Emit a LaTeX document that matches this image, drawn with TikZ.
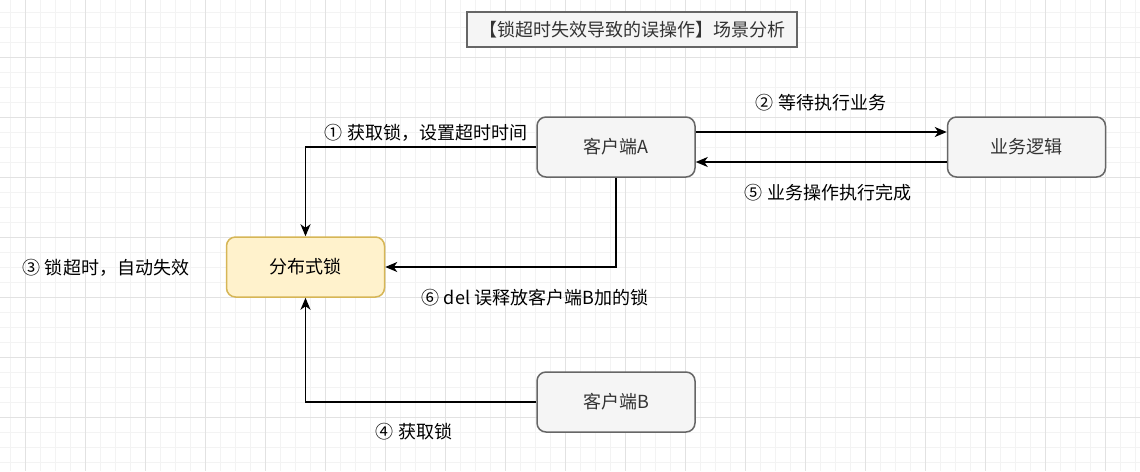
\documentclass[tikz,border=0pt]{standalone}
\usepackage{fontspec}
\setmainfont{Noto Sans CJK SC}
\usetikzlibrary{arrows.meta}
\definecolor{gfill}{HTML}{F5F5F5}
\definecolor{gline}{HTML}{666666}
\definecolor{gtext}{HTML}{333333}
\definecolor{yfill}{HTML}{FFF2CC}
\definecolor{yline}{HTML}{D6B656}
\definecolor{minorgrid}{HTML}{F3F3F3}
\definecolor{majorgrid}{HTML}{E2E2E2}
\tikzset{
  base/.style={font=\fontsize{18}{22}\selectfont},
  graybox/.style={base, draw=gline, fill=gfill, text=gtext, line width=1.5pt, rounded corners=9pt, minimum width=158pt, minimum height=60pt, inner sep=0pt},
  lockbox/.style={graybox, draw=yline, fill=yfill, text=black},
  titlebox/.style={base, draw=gline, fill=gfill, text=gtext, line width=1.5pt, minimum width=330pt, minimum height=35pt, inner sep=0pt},
  lbl/.style={base, text=black, inner sep=0pt},
  conn/.style={line width=1.5pt, -{Stealth[length=12pt, width=10pt, inset=3.5pt]}}
}
\begin{document}
\begin{tikzpicture}[x=1pt, y=-1pt]
\useasboundingbox (0,0) rectangle (1140,471);
% grid
\foreach \x in {10,25,...,1140} \draw[minorgrid, line width=1pt] (\x,0) -- (\x,471);
\foreach \y in {12,27,...,471} \draw[minorgrid, line width=1pt] (0,\y) -- (1140,\y);
\foreach \x in {25,85,...,1140} \draw[majorgrid, line width=1pt] (\x,0) -- (\x,471);
\foreach \y in {57,117,...,471} \draw[majorgrid, line width=1pt] (0,\y) -- (1140,\y);

\node[titlebox] (title) at (632,29.5) {【锁超时失效导致的误操作】场景分析};
\node[graybox] (A) at (616,147) {客户端A};
\node[graybox] (biz) at (1026.5,147) {业务逻辑};
\node[lockbox] (lock) at (305.5,267) {分布式锁};
\node[graybox] (B) at (616,402) {客户端B};

\draw[conn] (A.west) -| (lock.north);
\draw[conn] (A.south) |- (lock.east);
\draw[conn] ([yshift=15pt]A.east) -- ([yshift=15pt]biz.west);
\draw[conn] ([yshift=-15pt]biz.west) -- ([yshift=-15pt]A.east);
\draw[conn] (B.west) -| (lock.south);

\node[lbl] (l1) at (426,133) {① 获取锁，设置超时时间};
\node[lbl] (l2) at (821,103) {② 等待执行业务};
\node[lbl] (l3) at (106,268) {③ 锁超时，自动失效};
\node[lbl] (l4) at (414,432) {④ 获取锁};
\node[lbl] (l5) at (828,193) {⑤ 业务操作执行完成};
\node[lbl] (l6) at (535,298) {⑥ del 误释放客户端B加的锁};
\end{tikzpicture}
\end{document}
